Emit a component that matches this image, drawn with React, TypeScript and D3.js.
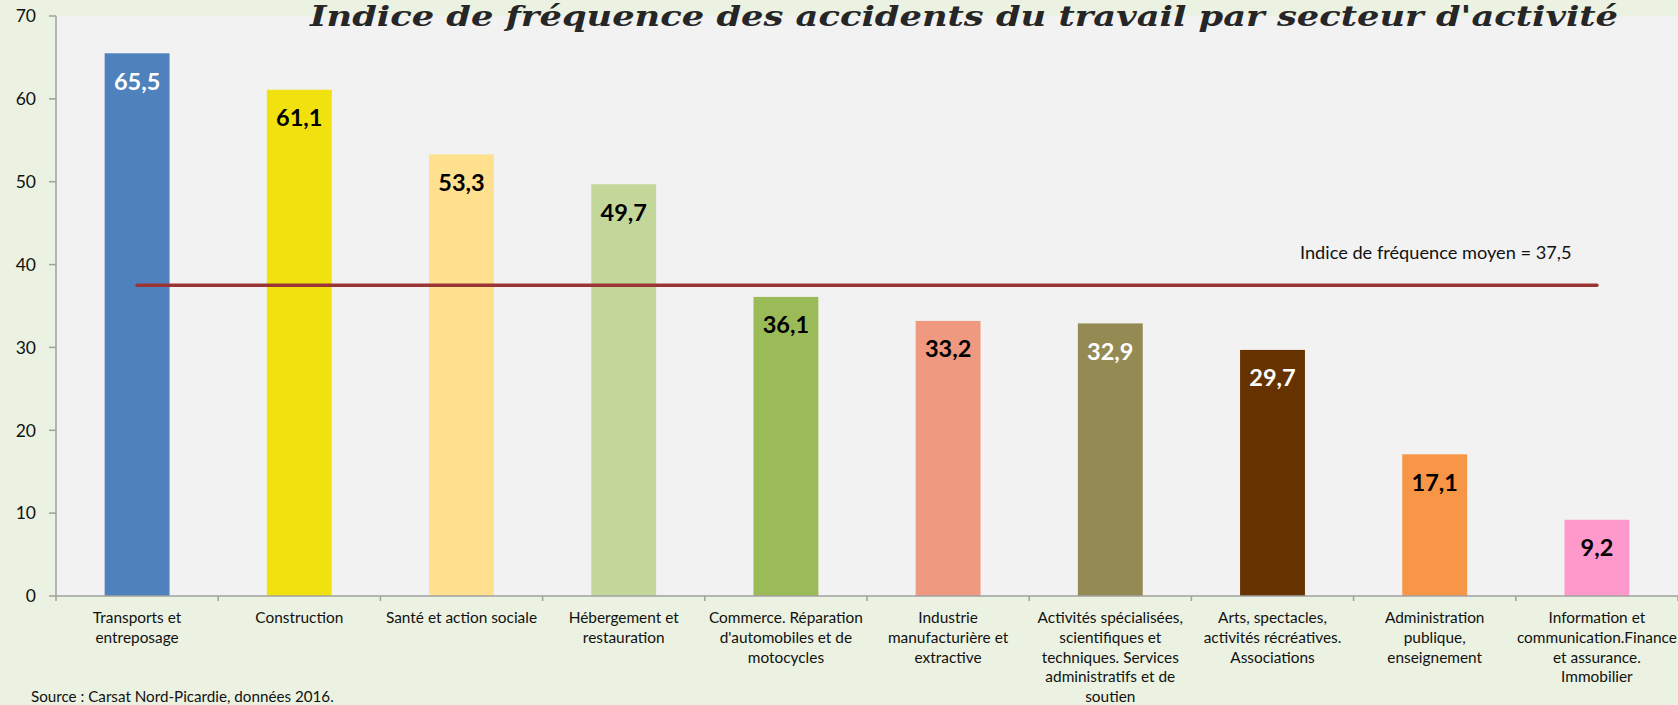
import React from "react";
import * as d3 from "d3";

const categories: string[][] = [
  ["Transports et", "entreposage"],
  ["Construction"],
  ["Santé et action sociale"],
  ["Hébergement et", "restauration"],
  ["Commerce. Réparation", "d'automobiles et de", "motocycles"],
  ["Industrie", "manufacturière et", "extractive"],
  ["Activités spécialisées,", "scientifiques et", "techniques. Services", "administratifs et de", "soutien"],
  ["Arts, spectacles,", "activités récréatives.", "Associations"],
  ["Administration", "publique,", "enseignement"],
  ["Information et", "communication.Finance", "et assurance.", "Immobilier"],
];
const values: number[] = [65.5, 61.1, 53.3, 49.7, 36.1, 33.2, 32.9, 29.7, 17.1, 9.2];
const barColors: string[] = [
  "#4F81BD", "#F1E20F", "#FEE08F", "#C4D79B", "#9BBB59",
  "#EF9980", "#948A54", "#663300", "#F79646", "#FF99CC",
];
const labelColors: string[] = [
  "#FFFFFF", "#000000", "#000000", "#000000", "#000000",
  "#000000", "#FFFFFF", "#FFFFFF", "#000000", "#000000",
];
const yTicks: number[] = [0, 10, 20, 30, 40, 50, 60, 70];
const meanValue = 37.5;
const title = "Indice de fréquence des accidents du travail par secteur d'activité";
const meanLabel = "Indice de fréquence moyen = 37,5";
const sourceText = "Source : Carsat Nord-Picardie, données 2016.";

const W = 1678;
const H = 705;
const left = 56;
const right = 1678;
const top = 16;
const bottom = 596;

const fmt = (v: number) => v.toFixed(1).replace(".", ",");

export default function App() {
  const idx = values.map((_, i) => String(i));
  const x = d3.scaleBand<string>().domain(idx).range([left, right]).paddingInner(0.6).paddingOuter(0.3);
  const y = d3.scaleLinear().domain([0, 70]).range([bottom, top]);
  const step = x.step();
  const firstCenter = (x("0") as number) + x.bandwidth() / 2;
  const lastCenter = (x(String(values.length - 1)) as number) + x.bandwidth() / 2;
  const font = "Lato, 'Open Sans', sans-serif";
  const axisColor = "#A0A0A0";

  return (
    <svg width={W} height={H} style={{ position: "absolute", left: 0, top: 0 }}>
      <rect x={0} y={0} width={W} height={H} fill="#EBF2E1" />
      <rect x={left} y={top} width={right - left} height={bottom - top} fill="#F2F2F2" />

      {/* bars */}
      {values.map((v, i) => (
        <rect
          key={"b" + i}
          x={x(String(i))}
          y={y(v)}
          width={x.bandwidth()}
          height={y(0) - y(v)}
          fill={barColors[i]}
        />
      ))}

      {/* y axis */}
      <line x1={left} x2={left} y1={top} y2={bottom} stroke={axisColor} strokeWidth={1.5} />
      {yTicks.map((t) => (
        <g key={"yt" + t}>
          <line x1={left - 7} x2={left} y1={y(t)} y2={y(t)} stroke={axisColor} strokeWidth={1.5} />
          <text x={36} y={y(t)} dy="0.36em" textAnchor="end" fontFamily={font} fontSize={17.5} fill="#111">
            {t}
          </text>
        </g>
      ))}

      {/* x axis */}
      <line x1={left} x2={right} y1={bottom} y2={bottom} stroke={axisColor} strokeWidth={1.5} />
      {d3.range(values.length + 1).map((i) => (
        <line
          key={"xt" + i}
          x1={left + i * step}
          x2={left + i * step}
          y1={bottom}
          y2={bottom + 5}
          stroke={axisColor}
          strokeWidth={1.5}
        />
      ))}
      {categories.map((lines, i) => (
        <text
          key={"c" + i}
          x={(x(String(i)) as number) + x.bandwidth() / 2}
          y={623}
          textAnchor="middle"
          fontFamily={font}
          fontSize={15.4}
          fill="#111"
        >
          {lines.map((l, j) => (
            <tspan key={j} x={(x(String(i)) as number) + x.bandwidth() / 2} y={623 + j * 19.8}>
              {l}
            </tspan>
          ))}
        </text>
      ))}

      {/* value labels */}
      {values.map((v, i) => (
        <text
          key={"v" + i}
          x={(x(String(i)) as number) + x.bandwidth() / 2}
          y={y(v) + 28}
          dy="0.36em"
          textAnchor="middle"
          fontFamily={font}
          fontWeight="bold"
          fontSize={23.5}
          fill={labelColors[i]}
        >
          {fmt(v)}
        </text>
      ))}

      {/* mean line */}
      <line
        x1={firstCenter}
        x2={lastCenter}
        y1={y(meanValue)}
        y2={y(meanValue)}
        stroke="#9B3535"
        strokeWidth={3.5}
        strokeLinecap="round"
      />
      <text x={1300} y={259} fontFamily={font} fontSize={18.2} fill="#111">
        {meanLabel}
      </text>

      {/* title */}
      <text
        x={310}
        y={26}
        textLength={1308}
        lengthAdjust="spacingAndGlyphs"
        fontFamily="'DejaVu Serif Condensed', 'DejaVu Serif', serif"
        fontStyle="italic"
        fontWeight="bold"
        fontSize={28}
        fill="#262626"
      >
        {title}
      </text>

      {/* source */}
      <text x={31} y={702} fontFamily={font} fontSize={15.2} fill="#111">
        {sourceText}
      </text>
    </svg>
  );
}
